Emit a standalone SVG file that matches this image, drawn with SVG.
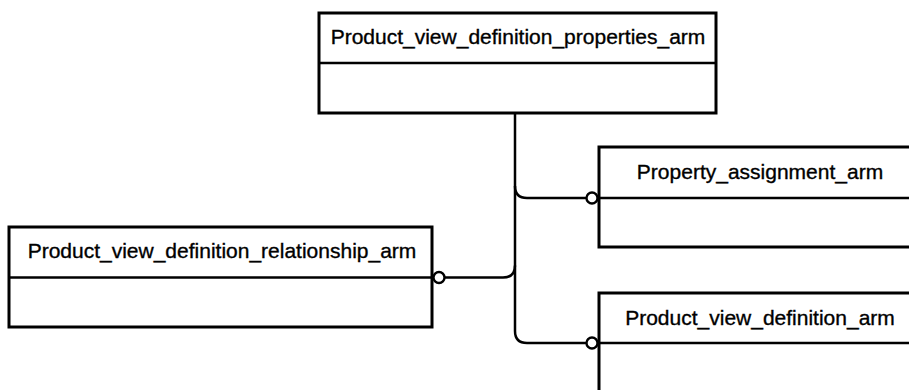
<svg xmlns="http://www.w3.org/2000/svg" width="909" height="390" viewBox="0 0 909 390">
  <style>
    .box { fill: #fff; stroke: #000; stroke-width: 3; }
    .div { stroke: #000; stroke-width: 2.6; fill: none; }
    .lbl { font-family: "Liberation Sans", Arial, sans-serif; font-size: 21px; fill: #000; stroke: #000; stroke-width: 0.35; text-anchor: middle; }
    .conn { stroke: #000; stroke-width: 2.5; fill: none; }
    .end { fill: #fff; stroke: #000; stroke-width: 2.4; }
  </style>
  <rect width="909" height="390" fill="#fff"/>
  <g id="connectors">
    <path class="conn" d="M515,113 V331 Q515,343 527,343 H586"/>
    <path class="conn" d="M515,186 Q515,198 527,198 H586"/>
    <path class="conn" d="M515,265.5 Q515,277.5 503,277.5 H445"/>
    <circle class="end" cx="592" cy="198" r="5.5"/>
    <circle class="end" cx="592" cy="343" r="5.5"/>
    <circle class="end" cx="439" cy="277.5" r="5.5"/>
  </g>
  <g id="node-pvdp">
    <rect class="box" x="319" y="13" width="397" height="100"/>
    <line class="div" x1="319" y1="63" x2="716" y2="63"/>
    <text class="lbl" x="518" y="44">Product_view_definition_properties_arm</text>
  </g>
  <g id="node-pvdr">
    <rect class="box" x="9" y="227" width="423" height="100"/>
    <line class="div" x1="9" y1="277.5" x2="432" y2="277.5"/>
    <text class="lbl" x="222" y="258">Product_view_definition_relationship_arm</text>
  </g>
  <g id="node-pa">
    <rect class="box" x="599" y="147" width="322" height="100"/>
    <line class="div" x1="599" y1="198" x2="921" y2="198"/>
    <text class="lbl" x="760" y="179">Property_assignment_arm</text>
  </g>
  <g id="node-pvd">
    <rect class="box" x="599" y="293" width="322" height="110"/>
    <line class="div" x1="599" y1="343" x2="921" y2="343"/>
    <text class="lbl" x="760" y="325">Product_view_definition_arm</text>
  </g>
</svg>
